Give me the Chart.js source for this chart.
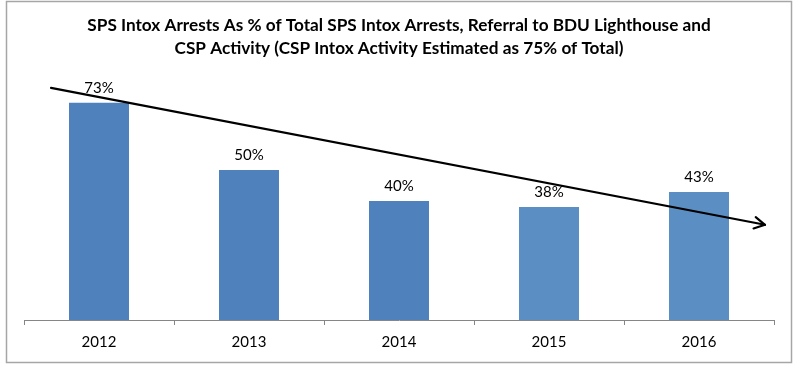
<!DOCTYPE html>
<html>
<head>
<meta charset="utf-8">
<script src="https://cdn.jsdelivr.net/npm/chart.js@4.4.1/dist/chart.umd.min.js"></script>
<style>
  html, body { margin: 0; padding: 0; background: #fff; }
  #wrap { width: 800px; height: 368px; }
</style>
</head>
<body>
<div id="wrap"><canvas id="chart" width="800" height="368"></canvas></div>
<script>
// chart data
const years = ['2012', '2013', '2014', '2015', '2016'];
const pctValues = [73, 50.4, 40, 38, 43];
const barColors = ['#4F81BD', '#4F81BD', '#4F81BD', '#5B8FC4', '#5B8FC4'];
const titleLines = [
  'SPS Intox Arrests As % of Total SPS Intox Arrests, Referral to BDU Lighthouse and',
  'CSP Activity (CSP Intox Activity Estimated as 75% of Total)'
];
// trend arrow ends, in category index / percent units
const trendX = [-0.32, 4.44];
const trendY = [78, 32];

const FONT = 'Lato, "Open Sans", sans-serif';

// frame around the whole chart
const framePlugin = {
  id: 'frame',
  beforeDraw(chart) {
    const ctx = chart.ctx;
    ctx.save();
    ctx.strokeStyle = '#a6a6a6';
    ctx.lineWidth = 1.5;
    ctx.strokeRect(6.5, 1.5, 785, 361);
    ctx.restore();
  }
};

// value labels on top of each bar
const valueLabels = {
  id: 'valueLabels',
  afterDatasetsDraw(chart) {
    const ctx = chart.ctx;
    const meta = chart.getDatasetMeta(0);
    ctx.save();
    ctx.fillStyle = '#000';
    ctx.font = '15px ' + FONT;
    ctx.textAlign = 'center';
    ctx.textBaseline = 'bottom';
    meta.data.forEach((bar, i) => {
      ctx.fillText(Math.round(pctValues[i]) + '%', bar.x, bar.y - 7);
    });
    ctx.restore();
  }
};

// trend arrow drawn through the scales
const trendArrow = {
  id: 'trendArrow',
  afterDraw(chart) {
    const xs = chart.scales.x, ys = chart.scales.y;
    const x1 = xs.getPixelForValue(trendX[0]), y1 = ys.getPixelForValue(trendY[0]);
    const x2 = xs.getPixelForValue(trendX[1]), y2 = ys.getPixelForValue(trendY[1]);
    const ang = Math.atan2(y2 - y1, x2 - x1);
    const ctx = chart.ctx;
    ctx.save();
    ctx.strokeStyle = '#000';
    ctx.lineWidth = 2.2;
    ctx.lineCap = 'round';
    ctx.lineJoin = 'round';
    ctx.beginPath();
    ctx.moveTo(x1, y1);
    ctx.lineTo(x2, y2);
    ctx.stroke();
    ctx.beginPath();
    ctx.moveTo(x2 - 12 * Math.cos(ang - 0.5), y2 - 12 * Math.sin(ang - 0.5));
    ctx.lineTo(x2, y2);
    ctx.lineTo(x2 - 12 * Math.cos(ang + 0.5), y2 - 12 * Math.sin(ang + 0.5));
    ctx.stroke();
    ctx.restore();
  }
};

new Chart(document.getElementById('chart'), {
  type: 'bar',
  data: {
    labels: years,
    datasets: [{
      data: pctValues,
      backgroundColor: barColors,
      borderWidth: 0,
      categoryPercentage: 1,
      barPercentage: 0.4
    }]
  },
  options: {
    responsive: false,
    animation: false,
    layout: { padding: { left: 24, right: 26, top: 0, bottom: 9 } },
    plugins: {
      legend: { display: false },
      tooltip: { enabled: false },
      title: {
        display: true,
        text: titleLines,
        color: '#000',
        font: { family: FONT, size: 17.2, weight: 'bold', lineHeight: 1.34 },
        padding: { top: 14, bottom: 7 }
      }
    },
    scales: {
      x: {
        border: { color: '#868686', width: 1 },
        grid: { display: true, drawOnChartArea: false, tickLength: 5, color: '#868686' },
        ticks: { color: '#000', font: { family: FONT, size: 15 }, padding: 8 }
      },
      y: {
        display: false,
        min: 0,
        max: 85
      }
    }
  },
  plugins: [framePlugin, valueLabels, trendArrow]
});
</script>
</body>
</html>
